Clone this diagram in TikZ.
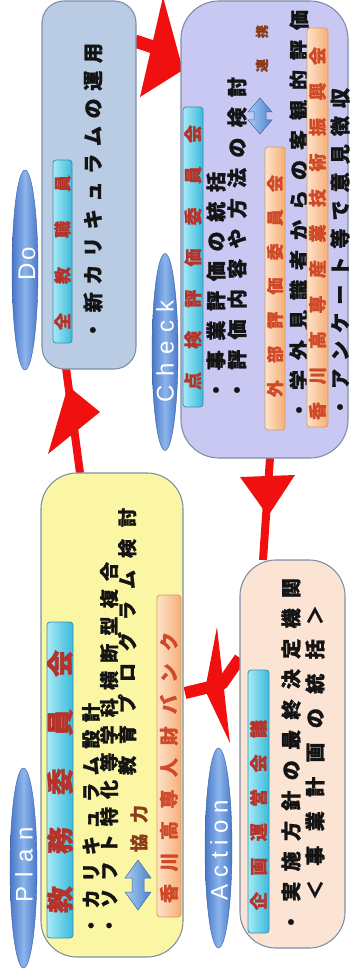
\documentclass[tikz,border=0pt]{standalone}
\usepackage{fontspec}
\setmainfont{Liberation Sans}
\newfontfamily\jp{Noto Sans CJK JP}[BoldFeatures={FakeBold=1.2}]
\usetikzlibrary{shapes.geometric,backgrounds}
\definecolor{boxline}{HTML}{7E8FA8}
\definecolor{dofill}{HTML}{BACCE3}
\definecolor{ckfill}{HTML}{C8C8F2}
\definecolor{plfill}{HTML}{FAF6A3}
\definecolor{acfill}{HTML}{FBE4D4}
\definecolor{cyanL}{HTML}{A6EAF6}
\definecolor{cyanR}{HTML}{3BBADB}
\definecolor{cyanB}{HTML}{3A8FB0}
\definecolor{orgL}{HTML}{FDE3C8}
\definecolor{orgR}{HTML}{F6AE78}
\definecolor{orgB}{HTML}{DE9A5C}
\definecolor{ellA}{HTML}{4877C8}
\definecolor{ellB}{HTML}{8CB5EC}
\definecolor{labred}{HTML}{B5332A}
\definecolor{laborg}{HTML}{D04A2A}
\definecolor{arrred}{HTML}{F01010}
\definecolor{brownt}{HTML}{8B3A1A}
\definecolor{dmdL}{HTML}{A9CCF2}
\definecolor{dmdR}{HTML}{4A82CF}
\makeatletter
\newcommand\spr[2]{\hbox to #1pt{\spr@a#2\relax}}
\def\spr@a#1{\ifx\relax#1\else#1\expandafter\spr@b\fi}
\def\spr@b#1{\ifx\relax#1\else\hfil#1\expandafter\spr@b\fi}
\makeatother
\begin{document}
\begin{tikzpicture}[x=1pt,y=-1pt,
  bigbox/.style={draw=boxline, line width=1.1pt, rounded corners=#1, inner sep=0},
  ell/.style={ellipse, inner sep=0, draw=ellA!80!black, line width=0.4pt,
     left color=ellA, right color=ellA, middle color=ellB},
  cyanlab/.style={draw=cyanB, line width=0.8pt, rounded corners=3pt, inner sep=0,
     left color=cyanL, right color=cyanR},
  orglab/.style={draw=orgB, line width=0.8pt, rounded corners=3pt, inner sep=0,
     left color=orgL, right color=orgR},
  txt/.style={rotate=90, inner sep=0, text=black!92,
     font=\jp\bfseries\fontsize{20}{20}\selectfont},
  smalltxt/.style={txt, font=\jp\bfseries\fontsize{19}{19}\selectfont},
  labtxt/.style={rotate=90, inner sep=0, text=labred,
     font=\jp\bfseries\fontsize{#1}{#1}\selectfont},
  orgtxt/.style={rotate=90, inner sep=0, text=laborg,
     font=\jp\bfseries\fontsize{#1}{#1}\selectfont},
  elltxt/.style={rotate=90, inner sep=0, text=white,
     font=\fontsize{24}{24}\selectfont},
  shaft/.style={draw=arrred, line width=#1, line join=round},
  head/.style={fill=arrred},
  dmd/.style={draw=dmdR!80!black, line width=0.5pt, left color=dmdL, right color=dmdR}
]
\useasboundingbox (0,0) rectangle (351,979);

% ---------- main boxes ----------
\node[bigbox=22pt, fill=dofill, minimum width=94pt, minimum height=368pt] (dobox) at (89,185) {};
\node[bigbox=38pt, fill=ckfill, minimum width=167pt, minimum height=457pt] (ckbox) at (264.5,229.5) {};
\node[bigbox=36pt, fill=plfill, minimum width=142pt, minimum height=484pt] (plbox) at (112,715) {};
\node[bigbox=36pt, fill=acfill, minimum width=105pt, minimum height=388pt] (acbox) at (292.5,754) {};

% ---------- phase ellipses ----------
\node[ell, minimum width=26pt, minimum height=200pt] (doell) at (25,270) {};
\node[ell, minimum width=26pt, minimum height=197pt] (ckell) at (165,352) {};
\node[ell, minimum width=27pt, minimum height=200pt] (plell) at (23.5,868) {};
\node[ell, minimum width=27pt, minimum height=200pt] (acell) at (218.5,848) {};
\node[elltxt] (dot) at (27,264) {\spr{33}{Do}};
\node[elltxt] (ckt) at (165,351) {\spr{102}{Check}};
\node[elltxt] (plt) at (24,864.5) {\spr{75}{Plan}};
\node[elltxt] (act) at (219,850) {\spr{100}{Action}};

% ---------- Do contents ----------
\node[cyanlab, minimum width=19pt, minimum height=183pt] (zenlab) at (62.5,251.5) {};
\node[labtxt=17] (zent) at (62.5,252.5) {\spr{155}{全教職員}};
\node[txt] (do1) at (93,191.5) {\spr{297}{・新カリキュラムの運用}};

% ---------- Check contents ----------
\node[cyanlab, minimum width=20pt, minimum height=300pt] (tenlab) at (193,257) {};
\node[labtxt=18] (tent) at (193,257.5) {\spr{265}{点検評価委員会}};
\node[txt] (ck1) at (216,286) {\spr{228}{・事業評価の統括}};
\node[txt] (ck2) at (237,238.5) {\spr{323}{・評価内容や方法の検討}};
\begin{scope}[shift={(260,116)}]
  \path[dmd] (0,-18) -- (12,-4) -- (6,-4) -- (6,4) -- (12,4) -- (0,18) -- (-12,4) -- (-6,4) -- (-6,-4) -- (-12,-4) -- cycle;
\end{scope}
\node[rotate=90, inner sep=0, text=brownt, font=\jp\bfseries\fontsize{13}{13}\selectfont] (renkei) at (262,48.5) {\spr{47}{連携}};
\node[orglab, minimum width=20pt, minimum height=283pt] (gailab) at (275,288.5) {};
\node[orgtxt=17] (gait) at (275,286) {\spr{222}{外部評価委員会}};
\node[txt] (ck3) at (299,215) {\spr{410}{・学外見識者からの客観的評価}};
\node[orglab, minimum width=21pt, minimum height=399pt] (sanlab) at (317.5,227.5) {};
\node[orgtxt=18] (sant) at (317.5,233.5) {\spr{373}{香川高専産業技術振興会}};
\node[txt] (ck4) at (340,252.5) {\spr{329}{・アンケート等で意見徴収}};

% ---------- Plan contents ----------
\node[cyanlab, minimum width=26pt, minimum height=316pt] (kyolab) at (60,780) {};
\node[labtxt=27] (kyot) at (60,781.5) {\spr{263}{教務委員会}};
\node[smalltxt] (pl1) at (91,819) {\spr{232}{・カリキュラム設計}};
\node[smalltxt] (pl2) at (109,748.5) {\spr{373}{・ソフト特化等学科横断型複合}};
\node[smalltxt] (pl3) at (127,641.5) {\spr{267}{教育プログラム検討}};
\begin{scope}[shift={(138,885)}]
  \path[dmd] (0,-25) -- (13,-7) -- (6,-7) -- (6,7) -- (13,7) -- (0,25) -- (-13,7) -- (-6,7) -- (-6,-7) -- (-13,-7) -- cycle;
\end{scope}
\node[rotate=90, inner sep=0, text=brownt, font=\jp\bfseries\fontsize{18}{18}\selectfont] (kyor) at (139,828.5) {\spr{47}{協力}};
\node[orglab, minimum width=24pt, minimum height=322pt] (jinlab) at (169,756) {};
\node[orgtxt=19] (jint) at (169,767.5) {\spr{271}{香川高専人財バンク}};

% ---------- Action contents ----------
\node[cyanlab, minimum width=21pt, minimum height=263pt] (kiklab) at (258.5,801.5) {};
\node[labtxt=18] (kikt) at (258.5,815) {\spr{190}{企画運営会議}};
\node[txt] (ac1) at (291,755) {\spr{354}{・実施方針の最終決定機関}};
\node[txt] (ac2) at (315,752.5) {\spr{295}{＜事業計画の統括＞}};

% ---------- cycle arrows (behind boxes) ----------
\coordinate (pdA) at (80,473);  \coordinate (pdB) at (66,368);
\coordinate (dcA) at (135,41);  \coordinate (dcB) at (168,52);
\coordinate (caA) at (270,458); \coordinate (caB) at (263,560);
\coordinate (apA) at (240,658); \coordinate (apM) at (222,684); \coordinate (apB) at (185,693);
\begin{pgfonlayer}{background}
  \draw[shaft=8pt] (pdA) -- (pdB);
  \fill[head] (48,454) -- (100,412) -- (68,386) -- cycle;
  \draw[shaft=13pt] (dcA) -- (dcB);
  \fill[head] (163,-3) -- (183,70) -- (140,97) -- cycle;
  \draw[shaft=8pt] (caA) -- (caB);
  \fill[head] (240,477) -- (295,475) -- (268,516) -- cycle;
  \draw[shaft=12pt] (apA) -- (apM) -- (apB);
  \fill[head] (217,627) -- (230,743) -- (205,690) -- cycle;
\end{pgfonlayer}
\end{tikzpicture}
\end{document}
